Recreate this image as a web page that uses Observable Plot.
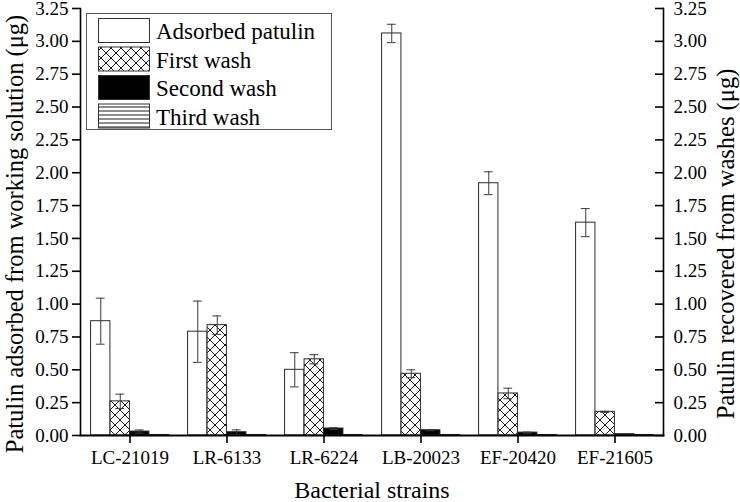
<!DOCTYPE html>
<html><head><meta charset="utf-8">
<script src="https://cdn.jsdelivr.net/npm/d3@7"></script>
<script src="https://cdn.jsdelivr.net/npm/@observablehq/plot@0.6"></script>
<style>
body{margin:0;background:#fff;}
#wrap{position:relative;width:740px;height:502px;font-family:"Liberation Serif","Times New Roman",serif;}
#legend{position:absolute;left:86px;top:13px;}
</style></head><body><div id="wrap"></div>
<script>
const strains = ["LC-21019","LR-6133","LR-6224","LB-20023","EF-20420","EF-21605"];
const seriesNames = ["Adsorbed patulin","First wash","Second wash","Third wash"];
const adsorbed      = [0.87, 0.79, 0.50, 3.06, 1.92, 1.62];
const adsorbedErr   = [0.175, 0.233, 0.13, 0.07, 0.087, 0.107];
const firstWash     = [0.26, 0.84, 0.58, 0.47, 0.32, 0.18];
const firstWashErr  = [0.055, 0.07, 0.035, 0.03, 0.04, 0.004];
const secondWash    = [0.03, 0.025, 0.053, 0.04, 0.022, 0.01];
const secondWashErr = [0.012, 0.018, 0.006, 0.004, 0.004, 0.002];
const thirdWash     = [0.004, 0.004, 0.004, 0.004, 0.004, 0.004];
const thirdWashErr  = [0, 0, 0, 0, 0, 0];
const yTicks = [0, 0.25, 0.5, 0.75, 1, 1.25, 1.5, 1.75, 2, 2.25, 2.5, 2.75, 3, 3.25];
const yLabelLeft = "Patulin adsorbed from working solution (\u03bcg)";
const yLabelRight = "Patulin recovered from washes (\u03bcg)";
const xLabel = "Bacterial strains";

const seriesVals = [adsorbed, firstWash, secondWash, thirdWash];
const seriesErrs = [adsorbedErr, firstWashErr, secondWashErr, thirdWashErr];
const rows = [];
seriesVals.forEach((vals, s) => vals.forEach((v, k) => rows.push({strain: strains[k], series: s, value: v, err: seriesErrs[s][k]})));

const W = 740, H = 502, mL = 80, mR = 77, mT = 8, mB = 67;
const band = (W - mL - mR) / strains.length;
const bw = 19.5, off = (band - 4 * bw) / 2;
const fills = ["white", "url(#xhatch)", "black", "url(#hlines)"];
const font = "'Liberation Serif','Times New Roman',serif";

const marks = [];
seriesNames.forEach((name, s) => {
  const data = rows.filter(d => d.series === s);
  marks.push(Plot.barY(data, {x: "strain", y: "value", fill: fills[s], stroke: "#2a2a2a", strokeWidth: 1,
    insetLeft: off + bw * s, insetRight: band - off - bw * (s + 1)}));
});
seriesNames.forEach((name, s) => {
  const data = rows.filter(d => d.series === s && d.err > 0);
  const c = off + bw * s + bw / 2;
  marks.push(Plot.ruleX(data, {x: "strain", y1: d => d.value - d.err, y2: d => d.value + d.err, dx: c - band / 2, stroke: "#3a3a3a", strokeWidth: 1}));
  marks.push(Plot.tickY(data, {x: "strain", y: d => d.value + d.err, insetLeft: c - 4.5, insetRight: band - c - 4.5, stroke: "#3a3a3a", strokeWidth: 1}));
  marks.push(Plot.tickY(data, {x: "strain", y: d => d.value - d.err, insetLeft: c - 4.5, insetRight: band - c - 4.5, stroke: "#3a3a3a", strokeWidth: 1}));
});
marks.push(
  Plot.frame({anchor: "left", strokeWidth: 1.6}),
  Plot.frame({anchor: "right", strokeWidth: 1.6}),
  Plot.frame({anchor: "bottom", strokeWidth: 1.8}),
  Plot.axisY({anchor: "left", ticks: yTicks, tickSize: 8, tickPadding: 4, strokeWidth: 1.6, tickFormat: d => d.toFixed(2), label: null}),
  Plot.axisY({anchor: "right", ticks: yTicks, tickSize: -9, tickPadding: 19, strokeWidth: 1.6, tickFormat: d => d.toFixed(2), label: null}),
  Plot.axisX({anchor: "bottom", tickSize: 8, tickPadding: 7, strokeWidth: 1.6, label: null}),
  Plot.text([yLabelLeft], {frameAnchor: "left", textAnchor: "middle", lineAnchor: "middle", rotate: -90, dx: -65, dy: 12, fontSize: 24.5, fill: "black"}),
  Plot.text([yLabelRight], {frameAnchor: "right", textAnchor: "middle", lineAnchor: "middle", rotate: -90, dx: 63, dy: 22, fontSize: 24.5, fill: "black"}),
  Plot.text([xLabel], {frameAnchor: "bottom", textAnchor: "middle", lineAnchor: "middle", dy: 55, fontSize: 24, fill: "black"})
);

const chart = Plot.plot({
  width: W, height: H, marginLeft: mL, marginRight: mR, marginTop: mT, marginBottom: mB,
  style: {fontFamily: font, fontSize: "19px", color: "black", background: "white", overflow: "visible"},
  x: {type: "band", domain: strains, padding: 0, axis: null},
  y: {domain: [0, 3.25], axis: null},
  marks
});

const defs = d3.select(chart).insert("defs", ":first-child");
const xh = defs.append("pattern").attr("id", "xhatch").attr("patternUnits", "userSpaceOnUse").attr("width", 10).attr("height", 10);
xh.append("rect").attr("width", 10).attr("height", 10).attr("fill", "white");
xh.append("path").attr("d", "M0,0L10,10M10,0L0,10M-1,9L1,11M9,-1L11,1").attr("stroke", "black").attr("stroke-width", 0.9).attr("fill", "none");
const hl = defs.append("pattern").attr("id", "hlines").attr("patternUnits", "userSpaceOnUse").attr("width", 8).attr("height", 4);
hl.append("rect").attr("width", 8).attr("height", 4).attr("fill", "white");
hl.append("path").attr("d", "M0,2H8").attr("stroke", "black").attr("stroke-width", 0.9);

const wrap = document.getElementById("wrap");
wrap.appendChild(chart);

// legend
const lg = d3.select(wrap).append("svg").attr("id", "legend").attr("width", 247).attr("height", 118);
lg.append("rect").attr("x", 0.5).attr("y", 0.5).attr("width", 245).attr("height", 116).attr("fill", "white").attr("stroke", "#555").attr("stroke-width", 1);
seriesNames.forEach((name, s) => {
  const y = 5 + s * 28.5;
  lg.append("rect").attr("x", 12.5).attr("y", y + 0.5).attr("width", 51).attr("height", 24).attr("fill", fills[s]).attr("stroke", "#333").attr("stroke-width", 1);
  lg.append("text").attr("x", 70).attr("y", y + 13).attr("dy", "0.35em").attr("font-family", font).attr("font-size", 23).attr("fill", "black").text(name);
});
</script></body></html>
